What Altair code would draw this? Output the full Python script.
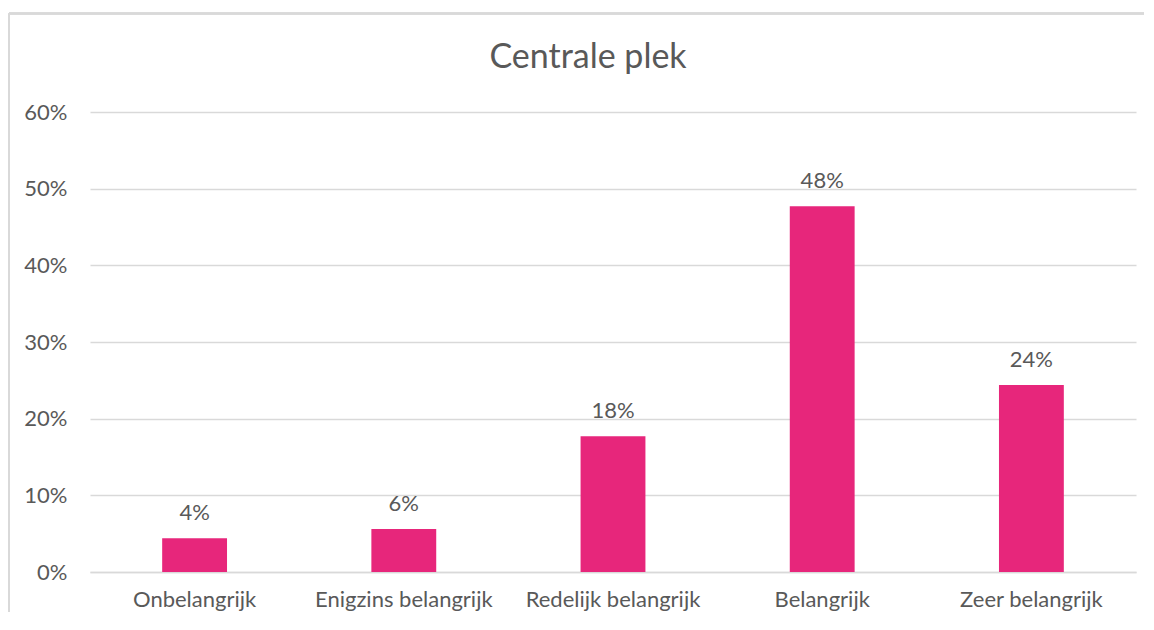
import altair as alt
import pandas as pd

categories = ["Onbelangrijk", "Enigzins belangrijk", "Redelijk belangrijk", "Belangrijk", "Zeer belangrijk"]
values = [0.044, 0.056, 0.177, 0.477, 0.244]
labels = ["4%", "6%", "18%", "48%", "24%"]
title_text = ["Centrale plek"]

df = pd.DataFrame({"cat": categories, "val": values, "lab": labels})
tdf = pd.DataFrame({"t": title_text})

FONT = "Lato"
TXT = "#595959"
GRID = "#D9D9D9"
PINK = "#E7267B"

x = alt.X("cat:N", sort=categories, title=None,
          scale=alt.Scale(paddingInner=0.69, paddingOuter=0.345),
          axis=alt.Axis(labelAngle=0, labelFontSize=22, labelFont=FONT, labelColor=TXT,
                        ticks=False, domainColor=GRID, domainWidth=1.5, labelPadding=17,
                        labelBaseline="top"))
y = alt.Y("val:Q", title=None,
          scale=alt.Scale(domain=[0, 0.6]),
          axis=alt.Axis(values=[0, 0.1, 0.2, 0.3, 0.4, 0.5, 0.6], format=".0%",
                        labelFontSize=22, labelFont=FONT, labelColor=TXT, ticks=False,
                        domain=False, gridColor=GRID, gridWidth=1.5, labelPadding=23))

bars = alt.Chart(df).mark_bar(color=PINK).encode(x=x, y=y)
text = alt.Chart(df).mark_text(font=FONT, fontSize=22, color=TXT, baseline="alphabetic", dy=-18).encode(
    x=alt.X("cat:N", sort=categories), y="val:Q", text="lab:N")

title = alt.Chart(tdf).mark_text(font=FONT, fontSize=34, color=TXT, baseline="alphabetic",
                                 align="center").encode(
    x=alt.value(498), y=alt.value(-44), text="t:N")

frame_top = alt.Chart(df).mark_rule(color=GRID, strokeWidth=2).encode(
    x=alt.value(-81), x2=alt.value(1070), y=alt.value(-98.5))
frame_left = alt.Chart(df).mark_rule(color=GRID, strokeWidth=2).encode(
    x=alt.value(-81), y=alt.value(-98.5), y2=alt.value(530))

chart = alt.layer(frame_top, frame_left, bars, text, title).properties(
    width=1046, height=460,
    autosize=alt.AutoSizeParams(type="none"),
    padding={"left": 82, "top": 104, "right": 8, "bottom": 40},
).configure_view(stroke=None)

chart.save("out.html", embed_options={"renderer": "svg", "actions": False})
